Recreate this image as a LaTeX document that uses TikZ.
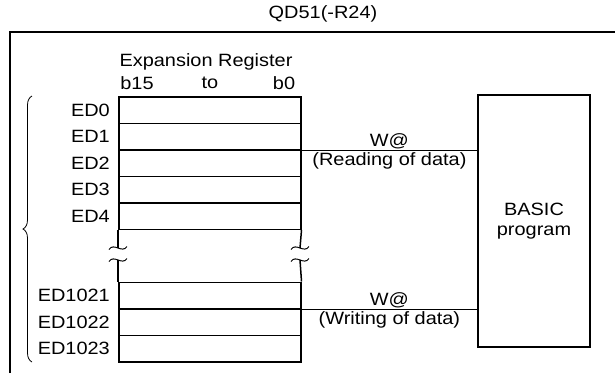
\documentclass[tikz,border=0pt]{standalone}
\usepackage{fontspec}
\setmainfont[FakeStretch=1.12]{Liberation Sans}
\usetikzlibrary{calc,decorations.pathreplacing}

\begin{document}
\begin{tikzpicture}[
            x=1pt, y=-1pt,
            regfont/.style={
                font=\fontsize{17.8}{20.5}\selectfont,
                inner sep=1pt
            },
            regrow/.style={
                draw,
                line width=1.5pt,
                minimum width=182pt,
                minimum height=26.5pt,
                inner sep=0pt,
                anchor=north west
            },
            edlabel/.style={
                regfont,
                inner sep=0pt,
                label distance=8pt
            },
            programbox/.style={
                draw,
                line width=1.3pt,
                minimum width=112pt,
                minimum height=252pt,
                inner sep=2pt,
                align=center,
                regfont
            },
            accessline/.style={
                line width=1.5pt
            },
            sideline/.style={
                line width=1.5pt
            },
            breakmark/.style={
                line width=1pt
            }
        ]

        \useasboundingbox (0,0) rectangle (615,373);

        % --- Module frame ---
        \node[regfont] (title) at (323,14) {QD51(-R24)};
        \draw[line width=1.2pt] (10,373) -- (10,32) -- (615,32);

        % --- Expansion register ---
        \node[regfont] (regname) at (206,62) {Expansion Register};
        \node[regfont] (msb) at (137,83) {b15};
        \node[regfont] (to) at (210,83) {to};
        \node[regfont] (lsb) at (284,83) {b0};

        \foreach \nm/\txt/\yy in {ed0/ED0/96, ed1/ED1/122.5, ed2/ED2/149,
            ed3/ED3/175.5, ed4/ED4/202, ed1021/ED1021/281.5,
            ed1022/ED1022/308, ed1023/ED1023/334.5}
            \node[regrow, label={[edlabel]left:\txt}] (\nm) at (118,\yy) {};

        % breaks in the register sides
        \coordinate (brkLtop) at (118,248);
        \coordinate (brkLbot) at (118,260);
        \coordinate (brkRtop) at (300,248);
        \coordinate (brkRbot) at (300,260);

        \draw[sideline] (ed4.south west) -- (brkLtop);
        \draw[sideline] (brkLbot) -- (ed1021.north west);
        \draw[sideline] (ed4.south east) -- (brkRtop);
        \draw[sideline] (brkRbot) -- (ed1021.north east);

        \foreach \brk in {brkLtop, brkLbot, brkRtop, brkRbot}
            \draw[breakmark] ($(\brk)+(-9,1.5)$)
                .. controls ($(\brk)+(-4,-6)$) and ($(\brk)+(4,6)$)
                .. ($(\brk)+(9,-1.5)$);

        % brace over all rows
        \coordinate (braceBot) at (32,362);
        \coordinate (braceTop) at (32,96);
        \draw[line width=0.8pt, decorate,
              decoration={brace, amplitude=9pt}] (braceBot) -- (braceTop);

        % --- BASIC program ---
        \node[programbox] (basic) at (534,221) {BASIC\\program};

        \draw[accessline] (ed1.south east) -- (ed1.south east -| basic.west)
            node[midway, above, regfont] (readcmd) {W@}
            node[midway, below, regfont] (readtxt) {(Reading of data)};

        \draw[accessline] (ed1021.south east) -- (ed1021.south east -| basic.west)
            node[midway, above, regfont] (writecmd) {W@}
            node[midway, below, regfont] (writetxt) {(Writing of data)};

        \end{tikzpicture}
\end{document}
